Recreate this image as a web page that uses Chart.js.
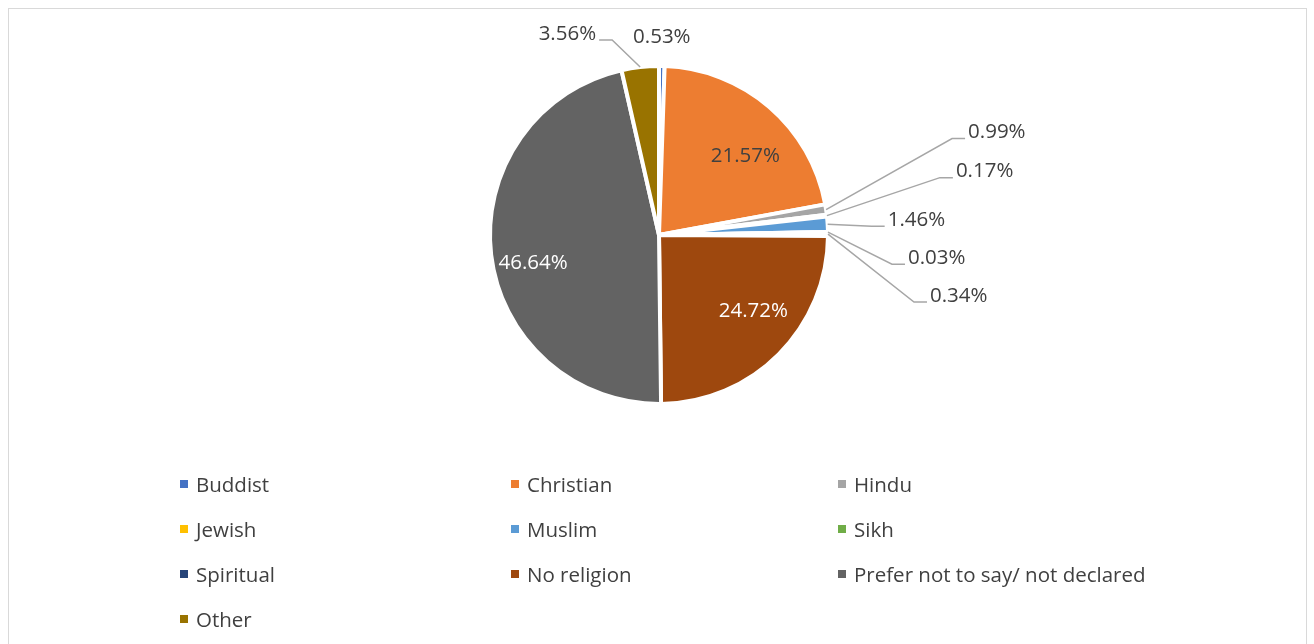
<!DOCTYPE html>
<html>
<head>
<meta charset="utf-8">
<script src="https://cdn.jsdelivr.net/npm/chart.js@4"></script>
<style>
  body { margin: 0; background: #fff; overflow: hidden; }
  #wrap { position: relative; width: 1314px; height: 644px; }
  #frame { position: absolute; left: 8px; top: 8px; width: 1297px; height: 700px; border: 1px solid #d9d9d9; }
  #box { position: absolute; left: 0; top: 0; width: 1314px; height: 644px; }
  #legend { position: absolute; left: 180px; top: 461px; display: grid; grid-template-columns: 331px 327px 330px; grid-auto-rows: 45px;
            font-family: "Open Sans", sans-serif; font-size: 20.5px; color: #404040; }
  #legend div { display: flex; align-items: center; }
  #legend span { display: inline-block; width: 8px; height: 8px; margin-right: 8px; }
</style>
</head>
<body>
<div id="wrap">
  <div id="frame"></div>
  <div id="box"><canvas id="myChart"></canvas></div>
  <div id="legend"></div>
</div>
<script>
const categories = ['Buddist', 'Christian', 'Hindu', 'Jewish', 'Muslim', 'Sikh', 'Spiritual', 'No religion', 'Prefer not to say/ not declared', 'Other'];
const percentages = [0.53, 21.57, 0.99, 0.17, 1.46, 0.03, 0.34, 24.72, 46.64, 3.56];
const colours = ['#4472C4', '#ED7D31', '#A5A5A5', '#FFC000', '#5B9BD5', '#70AD47', '#264478', '#9E480E', '#636363', '#997300'];

// where each value label sits: inside the slice, above it, or out on a leader line
// (dx/dy = elbow of the leader line measured from the slice's outer edge,
//  for inside labels a small nudge from the mid-angle point)
const labelPlacement = [
    { mode: 'top', dy: -29 },
    { mode: 'in', r: 0.72, dx: 7, dy: 13, color: '#404040' },
    { mode: 'line', dx: 126, dy: -71, side: 1 },
    { mode: 'line', dx: 113, dy: -38, side: 1 },
    { mode: 'line', dx: 44, dy: 2, side: 1 },
    { mode: 'line', dx: 64, dy: 32, side: 1 },
    { mode: 'line', dx: 86, dy: 68, side: 1 },
    { mode: 'in', r: 0.72, dx: 8, dy: -10, color: '#ffffff' },
    { mode: 'in', r: 0.75, dx: 0, dy: 13, color: '#ffffff' },
    { mode: 'line', dx: -28, dy: -27, side: -1 }
];

const valueLabels = {
    id: 'valueLabels',
    afterDatasetsDraw(chart) {
        const ctx = chart.ctx;
        const arcs = chart.getDatasetMeta(0).data;
        ctx.save();
        ctx.font = '20.5px "Open Sans"';
        ctx.textBaseline = 'middle';
        arcs.forEach((arc, i) => {
            const p = arc.getProps(['x', 'y', 'startAngle', 'endAngle', 'outerRadius'], true);
            const mid = (p.startAngle + p.endAngle) / 2;
            const txt = percentages[i].toFixed(2) + '%';
            const cfg = labelPlacement[i];
            if (cfg.mode === 'in') {
                ctx.fillStyle = cfg.color;
                ctx.textAlign = 'center';
                ctx.fillText(txt, p.x + Math.cos(mid) * p.outerRadius * cfg.r + cfg.dx,
                    p.y + Math.sin(mid) * p.outerRadius * cfg.r + cfg.dy);
                return;
            }
            const ax = p.x + Math.cos(mid) * p.outerRadius;
            const ay = p.y + Math.sin(mid) * p.outerRadius;
            ctx.fillStyle = '#404040';
            if (cfg.mode === 'top') {
                ctx.textAlign = 'center';
                ctx.fillText(txt, ax, ay + cfg.dy);
                return;
            }
            const ex = ax + cfg.dx, ey = ay + cfg.dy;
            const endX = ex + 13 * cfg.side;
            ctx.strokeStyle = '#A6A6A6';
            ctx.lineWidth = 1.5;
            ctx.beginPath();
            ctx.moveTo(ax, ay);
            ctx.lineTo(ex, ey);
            ctx.lineTo(endX, ey);
            ctx.stroke();
            ctx.textAlign = cfg.side > 0 ? 'left' : 'right';
            ctx.fillText(txt, endX + 3 * cfg.side, ey - 6);
        });
        ctx.restore();
    }
};

const ctx = document.getElementById('myChart').getContext('2d');
const myChart = new Chart(ctx, {
    type: 'pie',
    data: {
        labels: categories,
        datasets: [{
            data: percentages,
            backgroundColor: colours,
            borderColor: '#ffffff',
            borderWidth: 4,
            hoverOffset: 0
        }]
    },
    options: {
        responsive: true,
        maintainAspectRatio: false,
        animation: false,
        layout: { padding: { top: 64, bottom: 238, left: 4, right: 0 } },
        plugins: {
            legend: { display: false },
            tooltip: { enabled: false }
        }
    },
    plugins: [valueLabels]
});

// legend in three fixed columns, like the original
const legendBox = document.getElementById('legend');
categories.forEach((name, i) => {
    const item = document.createElement('div');
    const swatch = document.createElement('span');
    swatch.style.background = colours[i];
    item.appendChild(swatch);
    item.appendChild(document.createTextNode(name));
    legendBox.appendChild(item);
});
</script>
</body>
</html>
